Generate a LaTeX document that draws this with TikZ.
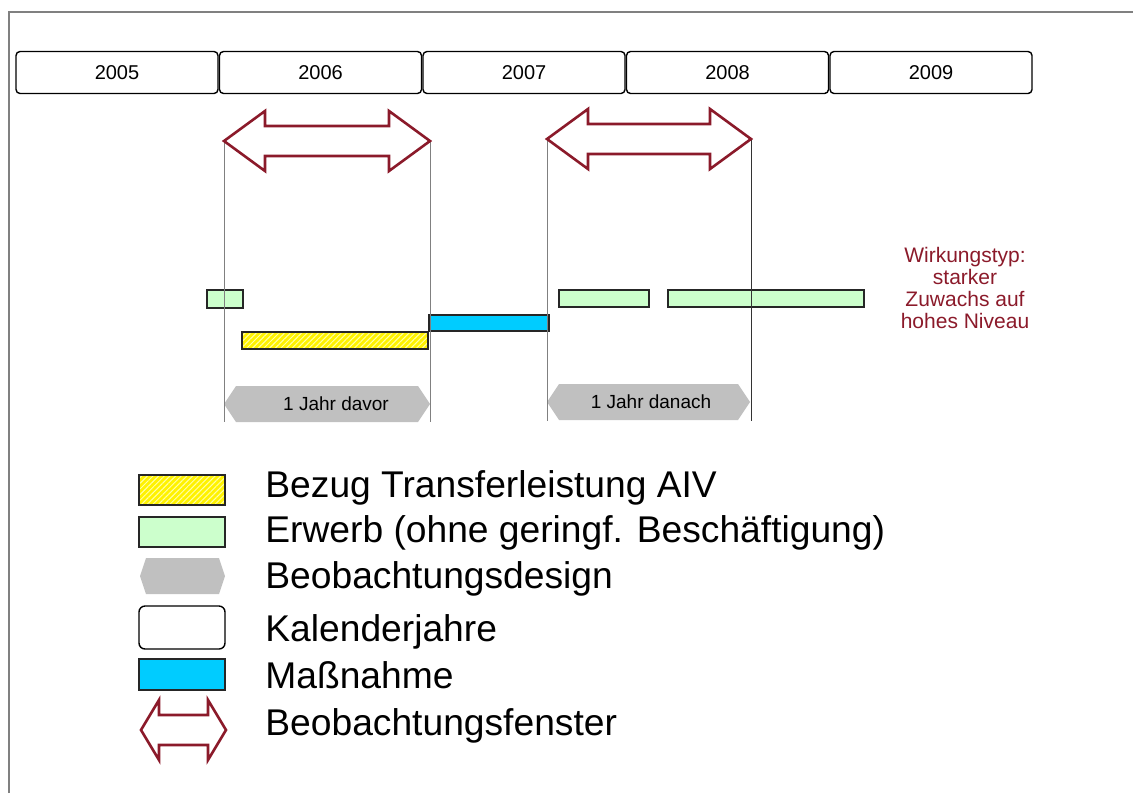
\documentclass[tikz,border=0pt]{standalone}
\usepackage{fontspec}
\setmainfont{Liberation Sans}
\usetikzlibrary{patterns.meta}

\definecolor{maroon}{RGB}{139,26,42}
\definecolor{erwerb}{RGB}{204,255,204}
\definecolor{massn}{RGB}{0,204,255}
\definecolor{design}{RGB}{192,192,192}
\definecolor{framegray}{RGB}{128,128,128}

%% double arrow: left tip, right tip, middle, head length
\newcommand\dblarrow[4]{({#1},{#3}) -- ({#1+#4},{#3-30}) -- ({#1+#4},{#3-15})
  -- ({#2-#4},{#3-15}) -- ({#2-#4},{#3-30}) -- ({#2},{#3}) -- ({#2-#4},{#3+30})
  -- ({#2-#4},{#3+15}) -- ({#1+#4},{#3+15}) -- ({#1+#4},{#3+30}) -- cycle}
%% hexagon: left, right, top, bottom, inset
\newcommand\hexpath[5]{({#1},{(#3+#4)/2}) -- ({#1+#5},{#3}) -- ({#2-#5},{#3})
  -- ({#2},{(#3+#4)/2}) -- ({#2-#5},{#4}) -- ({#1+#5},{#4}) -- cycle}

\begin{document}
\begin{tikzpicture}[x=0.5pt, y=-0.5pt,
  yearbox/.style={draw, rounded corners=2pt, line width=0.7pt, minimum width=101pt,
    minimum height=21pt, inner sep=0pt, font=\fontsize{10}{12}\selectfont},
  window/.style={draw=maroon, line width=1.3pt, line join=miter},
  guide/.style={draw=black!50, line width=0.5pt},
  bar/.style={draw=black!85, line width=0.7pt},
  hatch/.style={preaction={fill=yellow}, pattern={Lines[angle=45,distance=2pt,line width=0.5pt]},
    pattern color=yellow!35!white},
  hextext/.style={inner sep=0pt, font=\fontsize{9.5}{11}\selectfont},
  legtext/.style={anchor=base west, inner sep=0pt, font=\fontsize{18.6}{22}\selectfont}]

  \useasboundingbox (0,0) rectangle (1133,793);
  \draw[framegray, line width=1pt] (9,793) -- (9,12) -- (1133,12); %% frame

  %% calendar years
  \foreach \yr [count=\i from 0] in {2005,2006,2007,2008,2009}
    \node[yearbox] (y\yr) at ({117+203.5*\i}, 72.5) {\yr};

  %% observation design
  \fill[design] \hexpath{224}{430}{386}{422}{12};
  \fill[design] \hexpath{547}{750}{384}{420}{12};
  \node[hextext] (davor) at (336, 404) {1 Jahr davor};
  \node[hextext] (danach) at (651, 402) {1 Jahr danach};

  %% spells
  \draw[bar, fill=erwerb] (207,290) rectangle (243,308); %% Erwerb 2005
  \draw[bar, hatch] (242,332) rectangle (428,349); %% AIV
  \draw[bar, fill=massn] (429,315) rectangle (549,331); %% Massnahme
  \draw[bar, fill=erwerb] (559,290) rectangle (649,307); %% Erwerb 2007
  \draw[bar, fill=erwerb] (668,290) rectangle (864,307); %% Erwerb 2007/08

  %% window borders
  \coordinate (w1a) at (224,141);
  \coordinate (w1b) at (430,141);
  \coordinate (w2a) at (547,139);
  \coordinate (w2b) at (751,139);
  \draw[guide] (w1a) -- ++(0,281);
  \draw[guide] (w1b) -- ++(0,281);
  \draw[guide] (w2a) -- ++(0,282);
  \draw[guide, draw=black!80] (w2b) -- ++(0,282);

  %% observation windows
  \draw[window] \dblarrow{224}{430}{141}{41};
  \draw[window] \dblarrow{547}{751}{139}{41};

  \node[maroon, align=center, inner sep=0pt, font=\fontsize{10.5}{11}\selectfont] (wirkung)
    at (965, 288) {Wirkungstyp:\\starker\\Zuwachs auf\\hohes Niveau};

  %% legend
  \draw[bar, hatch] (139,475) rectangle (225,505);
  \draw[bar, fill=erwerb] (139,517) rectangle (225,547);
  \fill[design] \hexpath{140}{225}{558}{594}{6};
  \node[yearbox, rounded corners=3pt, minimum width=43pt, minimum height=21.5pt] (legyear) at (182,627.5) {};
  \draw[bar, fill=massn] (139,659) rectangle (225,690);
  \draw[window] \dblarrow{141}{226}{730}{18};

  \node[legtext] (legAIV) at (265,497) {Bezug Transferleistung AIV};
  \node[legtext] (legErw) at (265,542) {Erwerb (ohne geringf. Beschäftigung)};
  \node[legtext] (legDes) at (265,588) {Beobachtungsdesign};
  \node[legtext] (legKal) at (265,641) {Kalenderjahre};
  \node[legtext] (legMas) at (265,688) {Maßnahme};
  \node[legtext] (legFen) at (265,735) {Beobachtungsfenster};

\end{tikzpicture}
\end{document}
